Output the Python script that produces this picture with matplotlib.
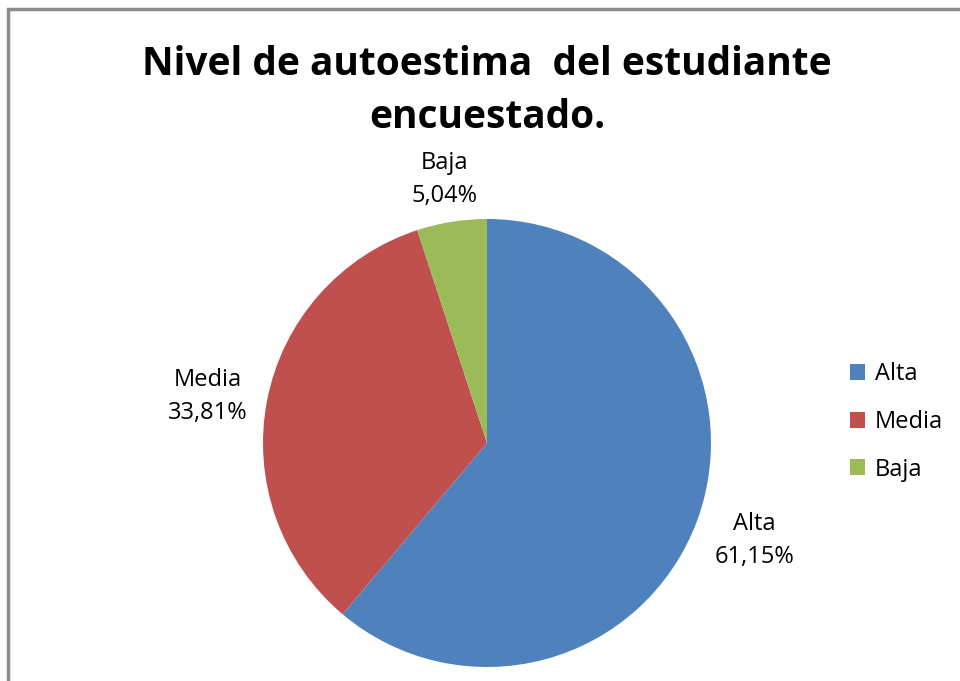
import matplotlib.pyplot as plt
from matplotlib.patches import Rectangle

categories = ['Alta', 'Media', 'Baja']
values = [61.15, 33.81, 5.04]
colors = ['#4F81BD', '#C0504D', '#9BBB59']
label_dist = [1.27, 1.27, 1.19]
title = 'Nivel de autoestima  del estudiante\nencuestado.'

plt.rcParams['font.family'] = ['Open Sans', 'DejaVu Sans']

fig = plt.figure(figsize=(9.6, 6.81), dpi=100)

# gray chart border (only left/top visible in the crop)
fig.patches.append(Rectangle((8 / 960, -0.1), 1.2, (681 - 9) / 681 + 0.1,
                             transform=fig.transFigure, fill=False,
                             edgecolor='#8C8C8C', linewidth=2.5))

cx, cy, r = 487 / 960, 1 - 443 / 681, 224
w, h = r / 960, r / 681
ax = fig.add_axes([cx - w, cy - h, 2 * w, 2 * h])

labels = [f'{c}\n{v:.2f}%'.replace('.', ',') for c, v in zip(categories, values)]
wedges, texts = ax.pie(values, colors=colors, startangle=90, counterclock=False,
                       labels=labels, labeldistance=1.0,
                       textprops={'fontsize': 17, 'color': '#000000'})
for t, d in zip(texts, label_dist):
    x, y = t.get_position()
    t.set_position((x * d, y * d))
    t.set_ha('center')
    t.set_va('center')
    t.set_linespacing(1.5)
texts[1].set_position((texts[1].get_position()[0], texts[1].get_position()[1] - 0.035))
ax.set_xlim(-1, 1)
ax.set_ylim(-1, 1)
ax.set_aspect('equal')

fig.text(487 / 960, 1 - 91 / 681, title, ha='center', va='center',
         fontsize=28, fontweight='bold', linespacing=1.45)

leg = fig.legend(wedges, categories, loc='center left',
                 bbox_to_anchor=(850 / 960, 1 - 422 / 681), frameon=False,
                 fontsize=17, handlelength=0.65, handleheight=0.65,
                 handletextpad=0.4, labelspacing=1.0, borderpad=0,
                 borderaxespad=0)

fig.savefig('out.png', dpi=100)
